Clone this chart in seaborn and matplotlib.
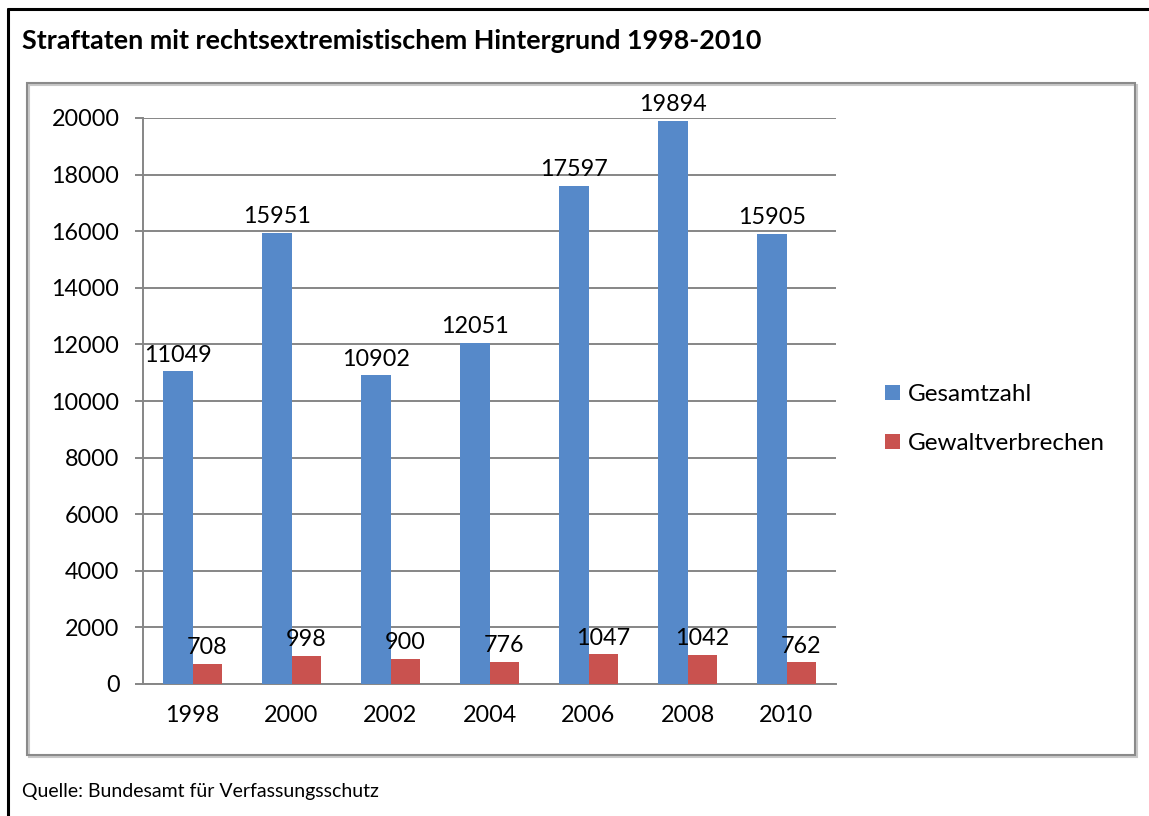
import numpy as np
import pandas as pd
import matplotlib
matplotlib.use("Agg")
import matplotlib.pyplot as plt
from matplotlib.patches import Rectangle, Patch
from matplotlib.lines import Line2D
import seaborn as sns

years = ["1998", "2000", "2002", "2004", "2006", "2008", "2010"]
gesamtzahl = [11049, 15951, 10902, 12051, 17597, 19894, 15905]
gewalt = [708, 998, 900, 776, 1047, 1042, 762]
series = ["Gesamtzahl", "Gewaltverbrechen"]
colors = ["#5689C9", "#C9524F"]
yticks = [0, 2000, 4000, 6000, 8000, 10000, 12000, 14000, 16000, 18000, 20000]
title = "Straftaten mit rechtsextremistischem Hintergrund 1998-2010"
source = "Quelle: Bundesamt für Verfassungsschutz"

sns.set_style("white")
plt.rcParams["font.family"] = ["Lato", "DejaVu Sans"]
plt.rcParams["text.color"] = "black"
plt.rcParams["xtick.labelcolor"] = "black"
plt.rcParams["ytick.labelcolor"] = "black"

W, H = 1149, 816
fig = plt.figure(figsize=(W / 100, H / 100), dpi=100)

def fx(px):
    return px / W

def fy(py):
    return 1 - py / H

ax = fig.add_axes([fx(143), fy(684), fx(836) - fx(143), fy(118) - fy(684)])

df = pd.DataFrame({
    "Jahr": years * 2,
    "Wert": gesamtzahl + gewalt,
    "Serie": [series[0]] * len(years) + [series[1]] * len(years),
})

sns.barplot(data=df, x="Jahr", y="Wert", hue="Serie", palette=colors,
            width=0.586, ax=ax, errorbar=None, saturation=1,
            edgecolor="none", linewidth=0, zorder=3)

if ax.legend_ is not None:
    ax.legend_.remove()

fs = 16.8
for cont in ax.containers:
    ax.bar_label(cont, labels=[str(int(v)) for v in cont.datavalues],
                 padding=4, fontsize=fs, color="black")

grid_c = "#868686"
ax.set_ylim(0, 20000)
ax.set_xlim(-0.5, len(years) - 0.5)
ax.set_yticks(yticks)
ax.set_yticklabels([str(v) for v in yticks], fontsize=fs, color="black")
ax.yaxis.grid(True, color=grid_c, linewidth=1.4, zorder=0)
ax.xaxis.grid(False)
ax.set_axisbelow(True)
ax.set_xticks(np.arange(-0.5, len(years)), minor=True)
ax.set_xticks(np.arange(len(years)))
ax.set_xticklabels(years, fontsize=fs, color="black")
ax.tick_params(axis="x", which="major", length=0, pad=15)
ax.tick_params(axis="x", which="minor", length=6, width=1.4, color=grid_c, direction="out")
ax.tick_params(axis="y", which="major", length=6, width=1.4, color=grid_c, pad=11, left=True)
ax.set_xlabel("")
ax.set_ylabel("")
for side in ["top", "right"]:
    ax.spines[side].set_visible(False)
for side in ["left", "bottom"]:
    ax.spines[side].set_visible(True)
    ax.spines[side].set_color(grid_c)
    ax.spines[side].set_linewidth(1.4)

handles = [Patch(facecolor=c, edgecolor="none") for c in colors]
fig.legend(handles, series, loc="center left",
           bbox_to_anchor=(fx(885), fy(419)), frameon=False, fontsize=17.5,
           handlelength=0.62, handleheight=0.62, handletextpad=0.33,
           labelspacing=1.15, borderpad=0, borderaxespad=0)

fig.add_artist(Rectangle((fx(29), fy(757)), fx(1135) - fx(27), fy(83) - fy(755),
                         transform=fig.transFigure, fill=False,
                         edgecolor="#C8C8C8", linewidth=1.5, zorder=0))
fig.add_artist(Rectangle((fx(27), fy(755)), fx(1135) - fx(27), fy(83) - fy(755),
                         transform=fig.transFigure, fill=False,
                         edgecolor="#8A8A8A", linewidth=1.5, zorder=1))

fig.add_artist(Line2D([fx(8), fx(8)], [fy(9), 0], transform=fig.transFigure,
                      color="black", linewidth=2.2))
fig.add_artist(Line2D([fx(8), 1], [fy(9), fy(9)], transform=fig.transFigure,
                      color="black", linewidth=2.2))

fig.text(fx(22), fy(49), title, fontsize=19.4, fontweight="bold",
         ha="left", va="baseline", color="black")
fig.text(fx(22), fy(797), source, fontsize=14, ha="left", va="baseline",
         color="black")

fig.savefig("out.png", dpi=100)
